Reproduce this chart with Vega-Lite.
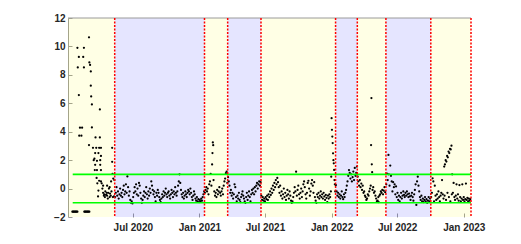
{
  "$schema": "https://vega.github.io/schema/vega-lite/v6.json",
  "width": 403,
  "height": 199,
  "autosize": {"type": "none"},
  "padding": {"left": 68, "top": 18, "right": 50, "bottom": 27},
  "background": "white",
  "config": {
    "view": {"stroke": null},
    "axis": {
      "labelFont": "Liberation Sans",
      "labelFontSize": 10,
      "labelFontWeight": "bold",
      "labelColor": "#262626",
      "tickColor": "#9a9a9a",
      "domainColor": "#9a9a9a",
      "grid": false,
      "title": null,
      "zindex": 1
    }
  },
  "datasets": {
    "bands": [
      {"start": "2020-01-04", "end": "2020-05-12", "phase": "y"},
      {"start": "2020-05-12", "end": "2021-01-15", "phase": "b"},
      {"start": "2021-01-15", "end": "2021-03-20", "phase": "y"},
      {"start": "2021-03-20", "end": "2021-06-20", "phase": "b"},
      {"start": "2021-06-20", "end": "2022-01-12", "phase": "y"},
      {"start": "2022-01-12", "end": "2022-03-13", "phase": "b"},
      {"start": "2022-03-13", "end": "2022-05-31", "phase": "y"},
      {"start": "2022-05-31", "end": "2022-10-02", "phase": "b"},
      {"start": "2022-10-02", "end": "2023-01-21", "phase": "y"}
    ],
    "bounds": [
      {"date": "2020-05-12"}, {"date": "2021-01-15"}, {"date": "2021-03-20"},
      {"date": "2021-06-20"}, {"date": "2022-01-12"}, {"date": "2022-03-13"},
      {"date": "2022-05-31"}, {"date": "2022-10-02"}, {"date": "2023-01-21"}
    ],
    "thr": [
      {"level": 1, "from": "2020-01-17", "to": "2023-01-21"},
      {"level": -1, "from": "2020-01-17", "to": "2023-01-21"}
    ],
    "frame": [
      {"level": 12, "from": "2020-01-04", "to": "2023-01-21"}
    ],
    "pts": [
      {"date":"2020-01-16","value":-1.63},{"date":"2020-01-18","value":-1.63},{"date":"2020-01-20","value":-1.63},{"date":"2020-01-22","value":-1.63},
      {"date":"2020-01-24","value":-1.63},{"date":"2020-01-26","value":-1.63},{"date":"2020-01-28","value":-1.63},{"date":"2020-01-30","value":-1.63},
      {"date":"2020-02-18","value":-1.63},{"date":"2020-02-20","value":-1.63},{"date":"2020-02-22","value":-1.63},{"date":"2020-02-24","value":-1.63},
      {"date":"2020-02-26","value":-1.63},{"date":"2020-02-28","value":-1.63},{"date":"2020-03-01","value":-1.63},{"date":"2020-03-03","value":-1.63},
      {"date":"2020-01-30","value":9.9},{"date":"2020-01-31","value":8.52},{"date":"2020-02-03","value":9.26},{"date":"2020-02-03","value":6.58},
      {"date":"2020-02-04","value":3.72},{"date":"2020-02-06","value":4.28},{"date":"2020-02-10","value":3.72},{"date":"2020-02-12","value":4.28},
      {"date":"2020-02-15","value":9.26},{"date":"2020-02-17","value":9.9},{"date":"2020-02-17","value":8.52},
      {"date":"2020-03-02","value":10.64},{"date":"2020-03-02","value":3.06},{"date":"2020-03-03","value":8.87},{"date":"2020-03-05","value":8.7},
      {"date":"2020-03-07","value":8.24},{"date":"2020-03-07","value":7.24},{"date":"2020-03-08","value":6.48},{"date":"2020-03-10","value":5.92},
      {"date":"2020-03-10","value":4.3},{"date":"2020-03-13","value":2.87},{"date":"2020-03-15","value":2.0},{"date":"2020-03-17","value":2.1},
      {"date":"2020-03-18","value":1.3},{"date":"2020-03-19","value":2.5},{"date":"2020-03-19","value":1.67},{"date":"2020-03-20","value":3.6},
      {"date":"2020-03-22","value":2.87},{"date":"2020-03-23","value":0.75},{"date":"2020-03-24","value":1.95},{"date":"2020-03-24","value":1.3},
      {"date":"2020-03-25","value":0.37},{"date":"2020-03-27","value":-0.55},{"date":"2020-03-28","value":2.5},{"date":"2020-03-28","value":-0.14},
      {"date":"2020-03-30","value":0.55},{"date":"2020-03-30","value":2.87},{"date":"2020-04-01","value":5.57},{"date":"2020-04-01","value":3.6},
      {"date":"2020-04-02","value":2.0},{"date":"2020-04-02","value":1.67},{"date":"2020-04-04","value":2.87},{"date":"2020-04-04","value":2.3},
      {"date":"2020-04-04","value":1.3},{"date":"2020-04-04","value":0.5},{"date":"2020-04-06","value":0.37},{"date":"2020-04-08","value":0.0},
      {"date":"2020-04-10","value":0.2},{"date":"2020-04-10","value":-0.3},{"date":"2020-04-12","value":-0.5},{"date":"2020-04-13","value":-0.4},
      {"date":"2020-04-15","value":-0.6},{"date":"2020-04-16","value":-0.2},{"date":"2020-04-18","value":-0.45},{"date":"2020-04-20","value":-0.3},
      {"date":"2020-04-21","value":0.2},{"date":"2020-04-21","value":-0.5},{"date":"2020-04-23","value":-0.7},{"date":"2020-04-24","value":-0.3},
      {"date":"2020-04-26","value":0.0},{"date":"2020-04-28","value":0.1},{"date":"2020-04-28","value":-0.6},{"date":"2020-04-29","value":-0.35},
      {"date":"2020-05-01","value":-0.5},{"date":"2020-05-02","value":0.5},{"date":"2020-05-03","value":-0.2},{"date":"2020-05-05","value":2.87},
      {"date":"2020-05-05","value":1.88},{"date":"2020-05-06","value":1.04},{"date":"2020-05-07","value":-0.6},{"date":"2020-05-08","value":0.7},
      {"date":"2020-05-10","value":-0.55},{"date":"2020-05-11","value":0.6},

      {"date":"2020-05-13","value":-0.6},{"date":"2020-05-15","value":-0.3},{"date":"2020-05-17","value":0.1},{"date":"2020-05-19","value":-0.5},
      {"date":"2020-05-21","value":-0.2},{"date":"2020-05-23","value":-0.7},{"date":"2020-05-25","value":-0.4},{"date":"2020-05-27","value":0.0},
      {"date":"2020-05-29","value":-0.5},{"date":"2020-05-31","value":-0.3},{"date":"2020-06-02","value":-0.6},{"date":"2020-06-04","value":-0.1},
      {"date":"2020-06-06","value":0.2},{"date":"2020-06-08","value":-0.4},{"date":"2020-06-10","value":-0.2},{"date":"2020-06-12","value":0.3},
      {"date":"2020-06-14","value":-0.3},{"date":"2020-06-16","value":0.85},{"date":"2020-06-18","value":0.1},{"date":"2020-06-20","value":-0.5},
      {"date":"2020-06-22","value":-0.2},{"date":"2020-06-24","value":-0.8},{"date":"2020-06-26","value":-1.0},{"date":"2020-06-28","value":-0.9},
      {"date":"2020-06-30","value":-1.05},{"date":"2020-07-02","value":-0.6},{"date":"2020-07-04","value":-0.3},{"date":"2020-07-06","value":0.1},
      {"date":"2020-07-08","value":-0.2},{"date":"2020-07-10","value":0.3},{"date":"2020-07-12","value":-0.4},{"date":"2020-07-14","value":0.0},
      {"date":"2020-07-16","value":-0.5},{"date":"2020-07-18","value":0.4},{"date":"2020-07-20","value":0.2},{"date":"2020-07-22","value":-0.3},
      {"date":"2020-07-24","value":-0.7},{"date":"2020-07-26","value":-1.0},{"date":"2020-07-28","value":-0.8},{"date":"2020-07-30","value":-0.5},
      {"date":"2020-08-01","value":-0.2},{"date":"2020-08-03","value":-0.6},{"date":"2020-08-05","value":-0.3},{"date":"2020-08-07","value":0.1},
      {"date":"2020-08-09","value":-0.4},{"date":"2020-08-11","value":-0.7},{"date":"2020-08-13","value":-0.2},{"date":"2020-08-15","value":-0.5},
      {"date":"2020-08-17","value":0.0},{"date":"2020-08-19","value":-0.3},{"date":"2020-08-21","value":0.5},{"date":"2020-08-23","value":0.2},
      {"date":"2020-08-25","value":-0.1},{"date":"2020-08-27","value":-0.4},{"date":"2020-08-29","value":-0.2},{"date":"2020-08-31","value":-0.6},
      {"date":"2020-09-02","value":-0.9},{"date":"2020-09-04","value":-0.3},{"date":"2020-09-06","value":-0.5},{"date":"2020-09-08","value":-0.1},
      {"date":"2020-09-10","value":-0.3},{"date":"2020-09-12","value":-0.6},{"date":"2020-09-14","value":-0.8},{"date":"2020-09-16","value":-0.95},
      {"date":"2020-09-18","value":-0.7},{"date":"2020-09-20","value":-0.4},{"date":"2020-09-22","value":-0.6},{"date":"2020-09-24","value":-0.2},
      {"date":"2020-09-26","value":-0.5},{"date":"2020-09-28","value":-0.3},{"date":"2020-09-30","value":0.0},{"date":"2020-10-02","value":-0.4},
      {"date":"2020-10-04","value":-0.6},{"date":"2020-10-06","value":-0.3},{"date":"2020-10-08","value":-0.2},{"date":"2020-10-10","value":-0.5},
      {"date":"2020-10-12","value":-0.7},{"date":"2020-10-14","value":-0.4},{"date":"2020-10-16","value":-0.1},{"date":"2020-10-18","value":-0.3},
      {"date":"2020-10-20","value":-0.6},{"date":"2020-10-22","value":-0.2},{"date":"2020-10-24","value":-0.4},{"date":"2020-10-26","value":0.1},
      {"date":"2020-10-28","value":-0.3},{"date":"2020-10-30","value":-0.5},{"date":"2020-11-01","value":-0.2},{"date":"2020-11-03","value":0.2},
      {"date":"2020-11-05","value":0.5},{"date":"2020-11-07","value":1.0},{"date":"2020-11-09","value":0.4},{"date":"2020-11-11","value":-0.1},
      {"date":"2020-11-13","value":-0.4},{"date":"2020-11-15","value":-0.6},{"date":"2020-11-17","value":-0.3},{"date":"2020-11-19","value":-0.7},
      {"date":"2020-11-21","value":-0.5},{"date":"2020-11-23","value":-0.2},{"date":"2020-11-25","value":-0.4},{"date":"2020-11-27","value":-0.6},
      {"date":"2020-11-29","value":-0.3},{"date":"2020-12-01","value":-0.1},{"date":"2020-12-03","value":-0.2},{"date":"2020-12-05","value":-0.4},
      {"date":"2020-12-07","value":0.0},{"date":"2020-12-09","value":-0.3},{"date":"2020-12-11","value":-0.6},{"date":"2020-12-13","value":-0.8},
      {"date":"2020-12-15","value":-0.5},{"date":"2020-12-17","value":-0.2},{"date":"2020-12-19","value":-0.4},{"date":"2020-12-21","value":-0.7},
      {"date":"2020-12-23","value":-0.85},{"date":"2020-12-25","value":-0.6},{"date":"2020-12-27","value":-0.9},{"date":"2020-12-29","value":-0.75},
      {"date":"2020-12-31","value":-0.95},{"date":"2021-01-02","value":-0.8},{"date":"2021-01-04","value":-0.9},{"date":"2021-01-06","value":-0.7},
      {"date":"2021-01-08","value":-0.85},{"date":"2021-01-10","value":-0.6},{"date":"2021-01-12","value":-0.4},{"date":"2021-01-14","value":-0.2},

      {"date":"2021-01-16","value":-0.3},{"date":"2021-01-18","value":-0.1},{"date":"2021-01-20","value":0.1},{"date":"2021-01-22","value":-0.2},
      {"date":"2021-01-24","value":0.0},{"date":"2021-01-26","value":-0.4},{"date":"2021-01-28","value":0.3},{"date":"2021-01-30","value":0.5},
      {"date":"2021-02-01","value":1.03},{"date":"2021-02-03","value":0.2},{"date":"2021-02-05","value":1.7},{"date":"2021-02-06","value":2.5},
      {"date":"2021-02-07","value":3.25},{"date":"2021-02-08","value":3.05},{"date":"2021-02-09","value":0.6},{"date":"2021-02-11","value":-0.2},
      {"date":"2021-02-13","value":-0.5},{"date":"2021-02-15","value":-0.3},{"date":"2021-02-17","value":-0.6},{"date":"2021-02-19","value":-0.1},
      {"date":"2021-02-21","value":-0.4},{"date":"2021-02-23","value":-0.2},{"date":"2021-02-25","value":0.1},{"date":"2021-02-27","value":-0.3},
      {"date":"2021-03-01","value":-0.5},{"date":"2021-03-03","value":-0.2},{"date":"2021-03-05","value":0.0},{"date":"2021-03-07","value":-0.4},
      {"date":"2021-03-09","value":0.2},{"date":"2021-03-11","value":0.5},{"date":"2021-03-13","value":0.7},{"date":"2021-03-15","value":1.08},
      {"date":"2021-03-17","value":1.2},{"date":"2021-03-19","value":0.4},

      {"date":"2021-03-21","value":0.8},{"date":"2021-03-23","value":0.5},{"date":"2021-03-25","value":0.2},{"date":"2021-03-27","value":-0.3},
      {"date":"2021-03-29","value":-0.1},{"date":"2021-03-31","value":-0.5},{"date":"2021-04-02","value":-0.3},{"date":"2021-04-04","value":-0.7},
      {"date":"2021-04-06","value":-0.4},{"date":"2021-04-08","value":0.3},{"date":"2021-04-10","value":0.1},{"date":"2021-04-12","value":-0.6},
      {"date":"2021-04-14","value":-0.9},{"date":"2021-04-16","value":-0.5},{"date":"2021-04-18","value":-0.7},{"date":"2021-04-20","value":-0.3},
      {"date":"2021-04-22","value":-0.8},{"date":"2021-04-24","value":-0.95},{"date":"2021-04-26","value":-0.6},{"date":"2021-04-28","value":-0.4},
      {"date":"2021-04-30","value":-0.2},{"date":"2021-05-02","value":-0.5},{"date":"2021-05-04","value":-0.7},{"date":"2021-05-06","value":-0.9},
      {"date":"2021-05-08","value":-1.0},{"date":"2021-05-10","value":-0.6},{"date":"2021-05-12","value":-0.3},{"date":"2021-05-14","value":-0.8},
      {"date":"2021-05-16","value":-0.5},{"date":"2021-05-18","value":-0.2},{"date":"2021-05-20","value":-0.6},{"date":"2021-05-22","value":-0.9},
      {"date":"2021-05-24","value":-0.4},{"date":"2021-05-26","value":-0.1},{"date":"2021-05-28","value":-0.3},{"date":"2021-05-30","value":0.0},
      {"date":"2021-06-01","value":-0.4},{"date":"2021-06-03","value":0.1},{"date":"2021-06-05","value":-0.2},{"date":"2021-06-07","value":0.2},
      {"date":"2021-06-09","value":0.4},{"date":"2021-06-11","value":0.0},{"date":"2021-06-13","value":0.3},{"date":"2021-06-15","value":0.5},
      {"date":"2021-06-17","value":0.2},{"date":"2021-06-19","value":0.45},

      {"date":"2021-06-21","value":-0.5},{"date":"2021-06-23","value":-0.8},{"date":"2021-06-25","value":-0.6},{"date":"2021-06-27","value":-0.85},
      {"date":"2021-06-29","value":-0.7},{"date":"2021-07-01","value":-0.9},{"date":"2021-07-03","value":-0.6},{"date":"2021-07-05","value":-0.75},
      {"date":"2021-07-07","value":-0.5},{"date":"2021-07-09","value":-0.8},{"date":"2021-07-11","value":-0.4},{"date":"2021-07-13","value":-0.6},
      {"date":"2021-07-15","value":-0.2},{"date":"2021-07-17","value":-0.45},{"date":"2021-07-19","value":0.0},{"date":"2021-07-21","value":-0.3},
      {"date":"2021-07-23","value":0.2},{"date":"2021-07-25","value":-0.1},{"date":"2021-07-27","value":0.4},{"date":"2021-07-29","value":0.1},
      {"date":"2021-07-31","value":0.6},{"date":"2021-08-02","value":0.3},{"date":"2021-08-04","value":0.75},{"date":"2021-08-06","value":0.45},
      {"date":"2021-08-08","value":0.1},{"date":"2021-08-10","value":-0.3},{"date":"2021-08-12","value":0.2},{"date":"2021-08-14","value":-0.5},
      {"date":"2021-08-16","value":-0.2},{"date":"2021-08-18","value":-0.7},{"date":"2021-08-20","value":-0.4},{"date":"2021-08-22","value":0.0},
      {"date":"2021-08-24","value":-0.6},{"date":"2021-08-26","value":-0.3},{"date":"2021-08-28","value":-0.8},{"date":"2021-08-30","value":-0.5},
      {"date":"2021-09-01","value":-0.1},{"date":"2021-09-03","value":-0.4},{"date":"2021-09-05","value":-0.7},{"date":"2021-09-07","value":-0.2},
      {"date":"2021-09-09","value":-0.5},{"date":"2021-09-11","value":-0.85},{"date":"2021-09-13","value":-1.0},{"date":"2021-09-15","value":-0.9},
      {"date":"2021-09-17","value":-0.6},{"date":"2021-09-19","value":-0.3},{"date":"2021-09-21","value":0.1},{"date":"2021-09-23","value":-0.2},
      {"date":"2021-09-25","value":1.19},{"date":"2021-09-27","value":-0.5},{"date":"2021-09-29","value":-0.1},{"date":"2021-10-01","value":0.2},
      {"date":"2021-10-03","value":-0.4},{"date":"2021-10-05","value":-0.7},{"date":"2021-10-07","value":-0.3},{"date":"2021-10-09","value":0.0},
      {"date":"2021-10-11","value":-0.6},{"date":"2021-10-13","value":-0.2},{"date":"2021-10-15","value":0.3},{"date":"2021-10-17","value":0.5},
      {"date":"2021-10-19","value":0.1},{"date":"2021-10-21","value":-0.4},{"date":"2021-10-23","value":-0.7},{"date":"2021-10-25","value":-0.3},
      {"date":"2021-10-27","value":0.4},{"date":"2021-10-29","value":0.55},{"date":"2021-10-31","value":0.0},{"date":"2021-11-02","value":-0.5},
      {"date":"2021-11-04","value":-0.2},{"date":"2021-11-06","value":0.35},{"date":"2021-11-08","value":0.6},{"date":"2021-11-10","value":0.2},
      {"date":"2021-11-12","value":-0.3},{"date":"2021-11-14","value":0.45},{"date":"2021-11-16","value":-0.6},{"date":"2021-11-18","value":-0.85},
      {"date":"2021-11-20","value":-1.0},{"date":"2021-11-22","value":-0.4},{"date":"2021-11-24","value":-0.6},{"date":"2021-11-26","value":-0.3},
      {"date":"2021-11-28","value":-0.7},{"date":"2021-11-30","value":-0.5},{"date":"2021-12-02","value":-0.2},{"date":"2021-12-04","value":-0.6},
      {"date":"2021-12-06","value":-0.4},{"date":"2021-12-08","value":-0.7},{"date":"2021-12-10","value":-0.3},{"date":"2021-12-12","value":-0.55},
      {"date":"2021-12-14","value":-0.8},{"date":"2021-12-16","value":-0.45},{"date":"2021-12-18","value":-0.65},{"date":"2021-12-20","value":-0.95},
      {"date":"2021-12-22","value":-0.5},{"date":"2021-12-24","value":-0.7},{"date":"2021-12-26","value":-0.4},{"date":"2021-12-28","value":-0.6},
      {"date":"2021-12-30","value":-0.2},{"date":"2021-12-31","value":0.84},{"date":"2022-01-01","value":4.95},{"date":"2022-01-02","value":4.13},
      {"date":"2022-01-03","value":3.66},{"date":"2022-01-04","value":3.2},{"date":"2022-01-05","value":2.48},{"date":"2022-01-06","value":2.0},
      {"date":"2022-01-07","value":1.78},{"date":"2022-01-08","value":1.31},{"date":"2022-01-09","value":0.6},{"date":"2022-01-10","value":0.3},
      {"date":"2022-01-11","value":-0.2},

      {"date":"2022-01-13","value":0.25},{"date":"2022-01-15","value":-0.2},{"date":"2022-01-17","value":-0.5},{"date":"2022-01-19","value":-0.3},
      {"date":"2022-01-21","value":-0.6},{"date":"2022-01-23","value":-0.4},{"date":"2022-01-25","value":-0.7},{"date":"2022-01-27","value":-0.5},
      {"date":"2022-01-29","value":-0.2},{"date":"2022-01-31","value":-0.6},{"date":"2022-02-02","value":-0.75},{"date":"2022-02-04","value":-0.4},
      {"date":"2022-02-06","value":-0.6},{"date":"2022-02-08","value":-0.3},{"date":"2022-02-10","value":-0.1},{"date":"2022-02-12","value":0.2},
      {"date":"2022-02-14","value":0.5},{"date":"2022-02-16","value":0.9},{"date":"2022-02-18","value":1.3},{"date":"2022-02-20","value":1.1},
      {"date":"2022-02-22","value":0.7},{"date":"2022-02-24","value":1.0},{"date":"2022-02-26","value":0.5},{"date":"2022-02-28","value":0.8},
      {"date":"2022-03-02","value":1.2},{"date":"2022-03-04","value":0.6},{"date":"2022-03-06","value":1.45},{"date":"2022-03-08","value":0.9},
      {"date":"2022-03-10","value":1.1},{"date":"2022-03-12","value":1.55},

      {"date":"2022-03-14","value":0.84},{"date":"2022-03-16","value":0.5},{"date":"2022-03-18","value":0.2},{"date":"2022-03-20","value":0.6},
      {"date":"2022-03-22","value":0.1},{"date":"2022-03-24","value":0.35},{"date":"2022-03-26","value":-0.1},{"date":"2022-03-28","value":0.2},
      {"date":"2022-03-30","value":-0.3},{"date":"2022-04-01","value":-0.2},{"date":"2022-04-03","value":-0.5},{"date":"2022-04-05","value":-0.6},
      {"date":"2022-04-07","value":-0.8},{"date":"2022-04-09","value":-0.7},{"date":"2022-04-11","value":-0.4},{"date":"2022-04-13","value":-0.5},
      {"date":"2022-04-15","value":-0.2},{"date":"2022-04-17","value":0.0},{"date":"2022-04-19","value":0.2},{"date":"2022-04-20","value":3.06},
      {"date":"2022-04-21","value":6.37},{"date":"2022-04-22","value":1.71},{"date":"2022-04-23","value":1.15},{"date":"2022-04-24","value":-0.1},
      {"date":"2022-04-26","value":0.1},{"date":"2022-04-28","value":-0.3},{"date":"2022-04-30","value":-0.2},{"date":"2022-05-02","value":-0.5},
      {"date":"2022-05-04","value":-0.7},{"date":"2022-05-06","value":-0.9},{"date":"2022-05-08","value":-0.85},{"date":"2022-05-10","value":-0.6},
      {"date":"2022-05-11","value":-0.95},{"date":"2022-05-13","value":-0.5},{"date":"2022-05-15","value":-0.4},{"date":"2022-05-17","value":-0.2},
      {"date":"2022-05-19","value":-0.3},{"date":"2022-05-21","value":-0.1},{"date":"2022-05-23","value":-0.4},{"date":"2022-05-25","value":-0.15},
      {"date":"2022-05-27","value":0.1},{"date":"2022-05-29","value":-0.25},

      {"date":"2022-06-01","value":0.3},{"date":"2022-06-03","value":1.05},{"date":"2022-06-05","value":0.6},{"date":"2022-06-07","value":2.37},
      {"date":"2022-06-08","value":1.0},{"date":"2022-06-10","value":0.2},{"date":"2022-06-12","value":1.62},{"date":"2022-06-14","value":0.9},
      {"date":"2022-06-16","value":0.5},{"date":"2022-06-18","value":-0.2},{"date":"2022-06-20","value":0.45},{"date":"2022-06-22","value":0.1},
      {"date":"2022-06-24","value":0.3},{"date":"2022-06-26","value":-0.4},{"date":"2022-06-28","value":0.15},{"date":"2022-06-30","value":-0.6},
      {"date":"2022-07-02","value":-0.3},{"date":"2022-07-04","value":-0.8},{"date":"2022-07-06","value":-0.5},{"date":"2022-07-08","value":-0.9},
      {"date":"2022-07-10","value":-0.6},{"date":"2022-07-12","value":-0.3},{"date":"2022-07-14","value":-0.7},{"date":"2022-07-16","value":-0.5},
      {"date":"2022-07-18","value":-0.2},{"date":"2022-07-20","value":-0.45},{"date":"2022-07-22","value":-0.6},{"date":"2022-07-24","value":-0.3},
      {"date":"2022-07-26","value":-0.5},{"date":"2022-07-28","value":-0.2},{"date":"2022-07-30","value":-0.4},{"date":"2022-08-01","value":-0.6},
      {"date":"2022-08-03","value":-0.35},{"date":"2022-08-05","value":-0.55},{"date":"2022-08-07","value":-0.8},{"date":"2022-08-09","value":-0.5},
      {"date":"2022-08-11","value":-0.3},{"date":"2022-08-13","value":-0.6},{"date":"2022-08-15","value":-0.85},{"date":"2022-08-17","value":-0.4},
      {"date":"2022-08-19","value":-0.1},{"date":"2022-08-21","value":0.3},{"date":"2022-08-23","value":-1.15},{"date":"2022-08-25","value":0.5},
      {"date":"2022-08-27","value":0.84},{"date":"2022-08-29","value":0.2},{"date":"2022-08-31","value":-0.2},{"date":"2022-09-02","value":-0.6},
      {"date":"2022-09-04","value":-0.8},{"date":"2022-09-06","value":-0.5},{"date":"2022-09-08","value":-0.9},{"date":"2022-09-10","value":-0.7},
      {"date":"2022-09-12","value":-0.95},{"date":"2022-09-14","value":-0.8},{"date":"2022-09-16","value":-0.6},{"date":"2022-09-18","value":-0.9},
      {"date":"2022-09-20","value":-0.75},{"date":"2022-09-22","value":-1.0},{"date":"2022-09-24","value":-0.85},{"date":"2022-09-26","value":-0.6},
      {"date":"2022-09-28","value":-0.9},{"date":"2022-09-30","value":-0.7},

      {"date":"2022-10-03","value":-0.6},{"date":"2022-10-05","value":-0.3},{"date":"2022-10-07","value":0.72},{"date":"2022-10-09","value":0.5},
      {"date":"2022-10-11","value":-0.9},{"date":"2022-10-13","value":0.2},{"date":"2022-10-15","value":-0.5},{"date":"2022-10-17","value":-0.8},
      {"date":"2022-10-19","value":-0.4},{"date":"2022-10-21","value":-0.7},{"date":"2022-10-23","value":-0.2},{"date":"2022-10-25","value":-0.6},
      {"date":"2022-10-27","value":-0.9},{"date":"2022-10-29","value":-0.5},{"date":"2022-10-31","value":-0.3},{"date":"2022-11-02","value":0.6},
      {"date":"2022-11-04","value":-0.4},{"date":"2022-11-06","value":-0.7},{"date":"2022-11-08","value":1.55},{"date":"2022-11-09","value":-0.5},
      {"date":"2022-11-10","value":1.7},{"date":"2022-11-12","value":2.0},{"date":"2022-11-13","value":-0.8},{"date":"2022-11-14","value":1.9},
      {"date":"2022-11-16","value":2.3},{"date":"2022-11-17","value":-0.3},{"date":"2022-11-18","value":2.2},{"date":"2022-11-20","value":2.6},
      {"date":"2022-11-21","value":-0.6},{"date":"2022-11-22","value":2.5},{"date":"2022-11-24","value":2.8},{"date":"2022-11-25","value":-0.9},
      {"date":"2022-11-26","value":2.75},{"date":"2022-11-28","value":3.02},{"date":"2022-11-29","value":-0.4},{"date":"2022-11-30","value":1.0},
      {"date":"2022-12-02","value":-0.3},{"date":"2022-12-04","value":0.4},{"date":"2022-12-06","value":-0.6},{"date":"2022-12-08","value":-0.8},
      {"date":"2022-12-10","value":-0.5},{"date":"2022-12-12","value":0.3},{"date":"2022-12-14","value":-0.7},{"date":"2022-12-16","value":-0.4},
      {"date":"2022-12-18","value":-0.85},{"date":"2022-12-20","value":0.25},{"date":"2022-12-22","value":-0.6},{"date":"2022-12-24","value":-0.9},
      {"date":"2022-12-26","value":-0.7},{"date":"2022-12-28","value":0.3},{"date":"2022-12-30","value":-0.8},{"date":"2023-01-01","value":-0.6},
      {"date":"2023-01-03","value":-0.9},{"date":"2023-01-05","value":-0.75},{"date":"2023-01-07","value":0.35},{"date":"2023-01-09","value":-0.8},
      {"date":"2023-01-11","value":-0.65},{"date":"2023-01-13","value":-0.9},{"date":"2023-01-15","value":-0.7},{"date":"2023-01-17","value":-0.85},
      {"date":"2023-01-19","value":-0.75}
    ]
  },
  "layer": [
    {
      "data": {"name": "bands"},
      "mark": {"type": "rect", "opacity": 0.1},
      "encoding": {
        "x": {
          "field": "start", "type": "temporal",
          "scale": {"type": "utc", "domain": [{"year": 2020, "month": 1, "date": 4, "utc": true}, {"year": 2023, "month": 1, "date": 21, "utc": true}]},
          "axis": {
            "orient": "bottom", "format": "%b %Y", "domain": false, "tickSize": -4, "labelPadding": 9, "labelFlush": false, "labelOverlap": false, "tickCount": 20,
            "values": [
              {"year": 2020, "month": 7, "date": 1, "utc": true},
              {"year": 2021, "month": 1, "date": 1, "utc": true},
              {"year": 2021, "month": 7, "date": 1, "utc": true},
              {"year": 2022, "month": 1, "date": 1, "utc": true},
              {"year": 2022, "month": 7, "date": 1, "utc": true},
              {"year": 2023, "month": 1, "date": 1, "utc": true}
            ]
          }
        },
        "x2": {"field": "end"},
        "y": {
          "datum": -2, "type": "quantitative",
          "scale": {"domain": [-2, 12], "nice": false, "zero": false},
          "axis": {
            "orient": "left", "values": [-2, 0, 2, 4, 6, 8, 10, 12], "tickCount": 20, "format": "d", "tickSize": -4, "labelPadding": 7, "domain": true,
            "labelOverlap": false, "labelFlush": false
          }
        },
        "y2": {"datum": 12},
        "color": {"field": "phase", "type": "nominal", "scale": {"domain": ["y", "b"], "range": ["#FFFF00", "#0000FF"]}, "legend": null}
      }
    },
    {
      "data": {"name": "frame"},
      "mark": {"type": "rule", "color": "#9a9a9a", "strokeWidth": 1},
      "encoding": {
        "x": {"field": "from", "type": "temporal"},
        "x2": {"field": "to"},
        "y": {"field": "level", "type": "quantitative"}
      }
    },
    {
      "data": {"name": "pts"},
      "mark": {"type": "point", "filled": true, "size": 5, "color": "#000000", "opacity": 1, "strokeWidth": 0},
      "encoding": {
        "x": {"field": "date", "type": "temporal"},
        "y": {"field": "value", "type": "quantitative"}
      }
    },
    {
      "data": {"name": "thr"},
      "mark": {"type": "rule", "color": "#00FF00", "strokeWidth": 1.6},
      "encoding": {
        "x": {"field": "from", "type": "temporal"},
        "x2": {"field": "to"},
        "y": {"field": "level", "type": "quantitative"}
      }
    },
    {
      "data": {"name": "bounds"},
      "mark": {"type": "rule", "color": "#FF0000", "strokeWidth": 1.5, "strokeDash": [2, 1.5]},
      "encoding": {
        "x": {"field": "date", "type": "temporal"}
      }
    }
  ]
}
